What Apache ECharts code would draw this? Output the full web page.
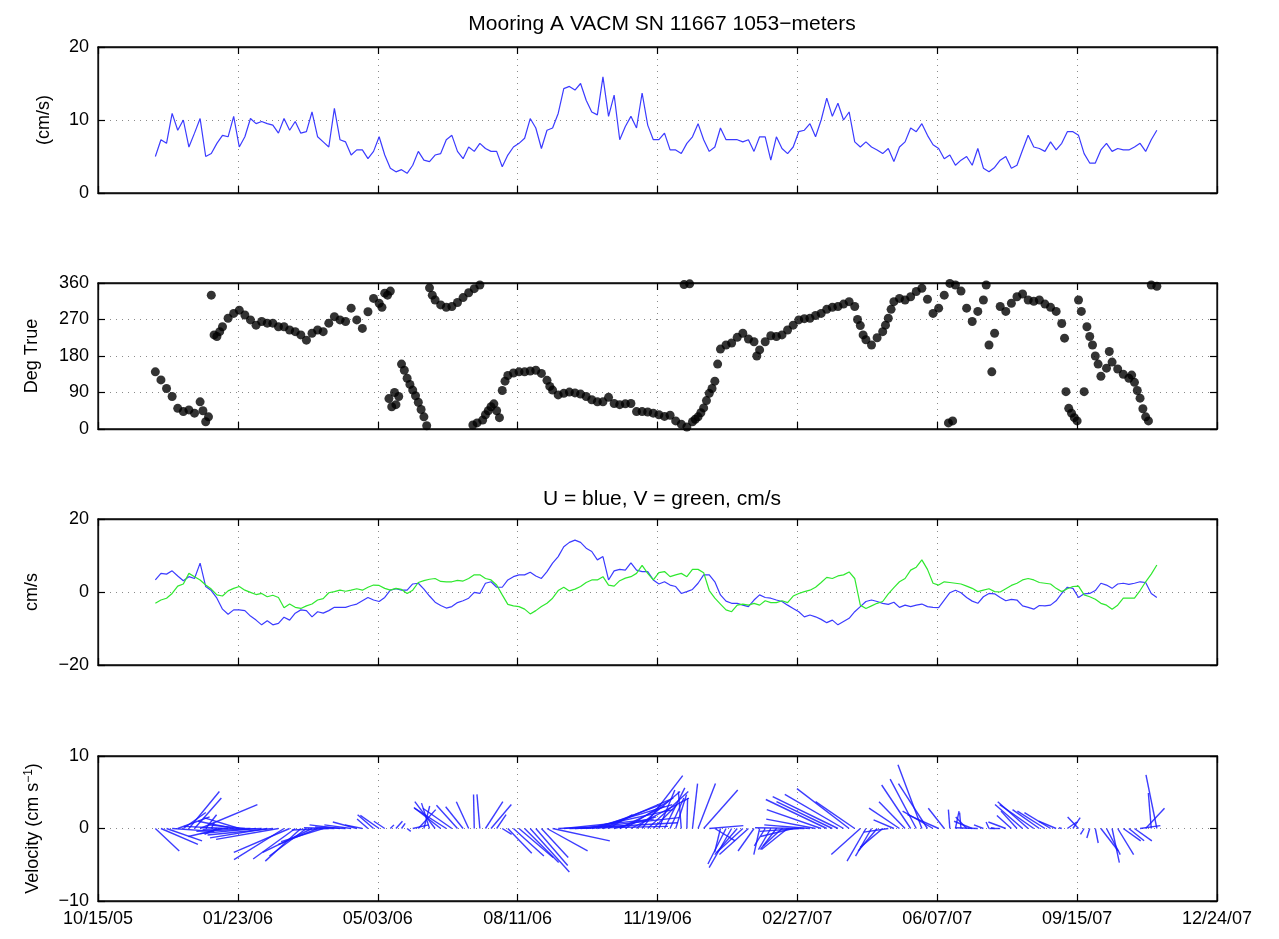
<!DOCTYPE html>
<html>
<head>
<meta charset="utf-8">
<script src="https://cdn.jsdelivr.net/npm/echarts@6/dist/echarts.min.js"></script>
<style>
html,body{margin:0;padding:0;background:#fff;}
#chart{width:1279px;height:939px;}
</style>
</head>
<body>
<div id="chart"></div>
<script>
// x axis: days since 10/15/05
const xTickLabels = ['10/15/05','01/23/06','05/03/06','08/11/06','11/19/06','02/27/07','06/07/07','09/15/07','12/24/07'];
const SAMPLE_START = 41;   // first sample day (11/25/05)
const SAMPLE_STEP = 4;     // days between samples

// Panel 1: speed (cm/s)
const speed = [
 5.0,7.3,6.8,10.9,8.6,10.0,6.3,8.2,10.2,5.0,
 5.4,6.8,7.9,7.7,10.5,6.3,7.7,10.2,9.5,9.8,
 9.5,9.3,8.2,10.2,8.6,9.8,8.2,8.4,11.1,7.7,
 7.0,6.3,11.6,7.3,7.0,5.2,5.9,5.9,4.7,5.7,
 7.7,5.2,3.4,2.9,3.2,2.7,3.8,5.7,4.5,4.3,
 5.2,5.4,7.3,7.9,5.7,4.7,6.3,5.7,6.8,6.1,
 5.7,5.7,3.6,5.2,6.3,6.8,7.5,10.2,8.9,6.1,
 8.6,8.9,10.9,14.3,14.6,14.1,15.0,12.7,11.1,10.7,
 15.9,10.5,13.4,7.3,9.1,10.5,8.9,13.7,9.3,7.3,
 7.3,8.2,5.9,5.9,5.4,6.8,7.7,9.5,7.3,5.7,
 6.3,8.9,7.3,7.3,7.3,7.0,7.3,5.7,7.7,7.7,
 4.5,7.7,6.1,5.4,6.3,8.4,8.6,9.5,7.7,10.0,
 13.0,10.5,12.3,10.0,11.1,7.0,6.3,7.0,6.3,5.9,
 5.4,6.1,4.3,6.3,7.0,8.9,8.4,9.5,7.9,6.6,
 6.1,4.7,5.2,3.8,4.5,5.0,3.8,6.1,3.4,2.9,
 3.5,4.5,5.0,3.4,3.8,5.9,7.9,6.3,6.1,5.7,
 7.0,5.9,6.8,8.4,8.4,7.9,5.4,4.1,4.1,5.9,
 6.8,5.7,6.1,5.9,5.9,6.3,6.8,5.7,7.3,8.6
];

// Panel 3 / 4: U (east) and V (north), cm/s
const uVel = [
 3.3,5.1,4.9,5.8,4.4,3.1,4.2,3.7,7.9,1.5,
 0.4,-1.7,-4.7,-6.1,-4.9,-4.9,-5.1,-6.6,-7.7,-9.0,
 -7.9,-9.0,-8.6,-6.9,-7.7,-5.8,-4.9,-5.1,-6.8,-5.4,
 -5.8,-5.1,-4.2,-4.2,-4.2,-3.7,-3.3,-2.4,-1.5,-2.2,
 -2.6,-1.5,0.5,0.9,0.5,0.5,2.2,2.4,0.8,-1.1,
 -2.8,-3.7,-4.4,-4.0,-2.9,-2.4,-1.7,-0.1,-0.4,2.4,
 2.8,1.3,1.3,3.3,4.2,4.7,4.7,5.4,4.4,3.7,
 5.6,7.9,9.7,12.4,13.6,14.2,13.6,12.0,11.1,8.8,
 9.7,3.3,5.8,6.2,6.0,8.0,6.0,5.6,5.6,3.3,
 2.2,2.8,1.9,1.5,-0.4,0.1,0.7,2.4,4.7,4.7,
 2.8,-0.8,-2.5,-3.1,-3.1,-3.6,-4.0,-2.2,-0.8,-1.5,
 -1.7,-2.2,-2.6,-3.6,-4.5,-5.4,-6.8,-6.3,-6.8,-7.5,
 -8.4,-7.7,-9.0,-8.1,-7.2,-5.4,-4.0,-2.6,-2.2,-2.6,
 -3.1,-3.4,-2.8,-4.2,-3.6,-4.0,-3.6,-3.3,-4.0,-4.2,
 -4.3,-2.2,-0.2,0.5,-0.2,-1.5,-2.5,-3.1,-1.3,-0.4,
 -0.5,-1.5,-2.4,-2.0,-2.2,-3.8,-4.2,-4.7,-3.7,-3.8,
 -3.6,-2.4,-0.4,1.3,1.0,-1.5,-0.5,-0.4,0.4,2.4,
 1.9,1.0,2.2,2.4,2.1,2.4,2.8,2.6,-0.4,-1.5
];
const vVel = [
 -3.1,-2.2,-1.7,-0.4,1.6,2.2,5.1,4.2,3.3,1.9,
 0.8,-0.8,-1.1,0.3,1.0,1.5,0.5,-0.1,-0.7,-0.4,
 -1.3,-0.9,-1.5,-4.3,-3.3,-4.2,-4.5,-3.8,-3.3,-2.2,
 -1.8,-0.2,0.1,0.5,0.2,0.5,0.9,0.5,1.3,1.9,
 1.8,1.0,0.5,1.0,0.7,-0.4,0.5,2.6,3.1,3.5,
 3.7,2.9,2.8,2.8,3.2,3.0,3.7,4.7,4.7,3.7,
 3.3,1.9,-0.8,-3.4,-3.8,-4.0,-4.7,-6.0,-5.1,-4.0,
 -3.1,-1.7,0.4,1.3,0.3,0.8,1.5,2.6,3.3,3.3,
 4.2,1.9,1.6,3.1,3.8,4.2,5.1,7.3,5.1,3.3,
 5.3,5.6,4.2,4.7,5.1,4.2,6.2,6.2,5.3,0.4,
 -1.7,-3.3,-4.9,-5.4,-3.6,-3.3,-3.6,-3.1,-3.6,-2.4,
 -2.9,-2.9,-2.4,-2.9,-1.1,-0.4,0.1,0.5,1.3,2.6,
 4.0,3.7,4.4,4.7,5.5,3.7,-3.6,-4.5,-3.8,-3.1,
 -2.6,-0.5,1.2,2.8,3.7,6.0,6.8,8.8,6.2,2.4,
 1.9,2.8,2.6,2.4,2.2,1.6,1.0,0.1,0.5,0.9,
 0.1,0.0,0.9,1.8,2.4,3.3,3.7,3.3,2.6,2.4,
 2.2,1.0,0.1,0.9,1.5,1.6,-0.8,-1.3,-2.0,-3.1,
 -3.6,-4.7,-3.6,-1.7,-1.7,-1.7,0.4,2.8,4.9,7.4
];

// Panel 2: direction (deg true), irregular sample days
const dirDays = [
 41,45,49,53,57,61,65,69,73,75,77,79,81,83,85,87,89,93,97,101,
 105,109,113,117,121,125,129,133,137,141,145,149,153,157,161,165,169,173,177,181,
 185,189,193,197,201,203,205,207,208,209,210,212,213,215,217,219,221,223,225,227,
 229,231,233,235,237,239,241,245,249,253,257,261,265,268,269,271,273,275,277,279,
 281,283,285,287,289,291,293,297,301,305,309,313,317,321,323,325,329,333,337,341,
 345,349,353,357,361,365,369,373,377,381,385,389,393,397,401,405,409,413,417,419,
 421,423,425,427,429,431,433,435,437,439,441,443,445,449,453,457,461,465,469,471,
 473,477,481,485,489,493,497,501,505,509,513,517,521,525,529,533,537,541,543,545,
 547,549,553,557,561,563,565,567,569,573,577,581,585,589,593,597,601,605,608,609,
 611,613,617,621,625,629,633,635,637,639,641,645,649,653,657,661,665,669,673,677,
 681,685,689,691,692,694,696,698,700,701,703,705,707,709,711,713,715,717,721,723,
 725,729,733,737,739,741,743,745,747,749,751,753,757
];
const dirDeg = [
 141,121,100,80,51,43,47,39,67,45,18,30,330,232,228,240,252,273,285,293,
 281,269,256,265,261,261,252,252,244,240,232,219,236,244,240,261,277,269,265,298,
 269,248,289,322,310,300,335,330,75,340,55,90,60,80,160,145,125,110,96,82,
 66,48,30,8,348,330,318,306,300,302,312,324,336,10,346,15,355,22,35,45,
 55,62,45,28,95,118,132,138,141,141,143,145,137,120,105,96,84,88,91,89,
 86,80,72,67,67,78,63,60,62,63,43,43,42,39,35,31,34,20,12,356,
 5,358,18,24,30,40,52,70,88,100,118,160,197,207,212,226,236,222,215,180,
 195,215,230,228,232,244,256,269,272,273,280,285,295,300,302,308,314,302,270,255,
 232,220,207,225,240,256,273,295,314,322,318,326,339,347,320,285,298,330,15,359,
 20,355,340,298,265,290,318,355,207,141,236,302,290,310,326,333,318,315,318,308,
 300,290,260,224,92,51,39,28,20,318,290,92,252,228,207,180,160,130,150,191,
 165,148,135,125,133,115,95,76,50,30,20,355,352
];

const sampleDays = speed.map((_, i) => SAMPLE_START + i * SAMPLE_STEP);

const FONT = 'Liberation Sans, Arial, Helvetica, sans-serif';
const FS = 18;
const TFS = 21;
const fmtNum = v => String(v).replace('-', '\u2212');

const panels = [
  {top: 47, height: 146, min: 0, max: 20, interval: 10, name: '(cm/s)', gap: 45},
  {top: 283, height: 146, min: 0, max: 360, interval: 90, name: 'Deg True', gap: 57},
  {top: 519, height: 146, min: -20, max: 20, interval: 20, name: 'cm/s', gap: 57},
  {top: 756, height: 145, min: -10, max: 10, interval: 10, name: 'Velocity (cm s{sup|\u22121})', gap: 55}
];

const grids = [], xAxes = [], yAxes = [];
panels.forEach((p, i) => {
  grids.push({left: 98, right: 62, top: p.top, height: p.height, show: true,
    borderColor: '#111', borderWidth: 1.3, backgroundColor: 'transparent'});
  const tick = {show: true, inside: true, length: 7, lineStyle: {color: '#000', width: 1.2}};
  const line = {show: true, onZero: false, lineStyle: {color: '#111', width: 1.3}};
  xAxes.push({gridIndex: i, type: 'value', position: 'bottom', min: 0, max: 800, interval: 100,
    axisLine: line, axisTick: tick,
    axisLabel: {show: i === 3, color: '#000', fontFamily: FONT, fontSize: FS, margin: 9,
      formatter: v => xTickLabels[Math.round(v / 100)]},
    splitLine: {show: true, lineStyle: {color: '#8a8a8a', type: [1, 5], width: 1}}});
  xAxes.push({gridIndex: i, type: 'value', position: 'top', min: 0, max: 800, interval: 100,
    axisLine: line, axisTick: tick,
    axisLabel: {show: false}, splitLine: {show: false}});
  yAxes.push({gridIndex: i, type: 'value', position: 'left', min: p.min, max: p.max, interval: p.interval,
    name: p.name, nameLocation: 'middle', nameRotate: 90, nameGap: p.gap,
    nameTextStyle: {color: '#000', fontFamily: FONT, fontSize: FS,
      rich: {sup: {fontSize: 12, fontFamily: FONT, color: '#000', verticalAlign: 'top', padding: [0, 0, 8, 0]}}},
    axisLine: line, axisTick: tick,
    axisLabel: {color: '#000', fontFamily: FONT, fontSize: FS, margin: 9, formatter: fmtNum},
    splitLine: {show: true, lineStyle: {color: '#8a8a8a', type: [1, 5], width: 1}}});
  yAxes.push({gridIndex: i, type: 'value', position: 'right', min: p.min, max: p.max, interval: p.interval,
    axisLine: line, axisTick: tick,
    axisLabel: {show: false}, splitLine: {show: false}});
});

const speedData = sampleDays.map((d, i) => [d, speed[i]]);
const uData = sampleDays.map((d, i) => [d, uVel[i]]);
const vData = sampleDays.map((d, i) => [d, vVel[i]]);
const stickData = sampleDays.map((d, i) => [d, uVel[i], vVel[i]]);
const dirData = dirDays.map((d, i) => [d, dirDeg[i]]);

const option = {
  animation: false,
  backgroundColor: '#fff',
  title: [
    {text: 'Mooring A VACM SN 11667 1053\u2212meters', left: 657, top: 9, textAlign: 'center',
      textStyle: {fontFamily: FONT, fontSize: TFS, fontWeight: 'normal', color: '#000'}},
    {text: 'U = blue, V = green, cm/s', left: 657, top: 484, textAlign: 'center',
      textStyle: {fontFamily: FONT, fontSize: TFS, fontWeight: 'normal', color: '#000'}}
  ],
  grid: grids, xAxis: xAxes, yAxis: yAxes,
  series: [
    {type: 'line', xAxisIndex: 0, yAxisIndex: 0, data: speedData, showSymbol: false,
      lineStyle: {color: '#3b3bff', width: 1.2}},
    {type: 'scatter', xAxisIndex: 2, yAxisIndex: 2, data: dirData, symbolSize: 9, clip: false,
      itemStyle: {color: '#000'}},
    {type: 'line', xAxisIndex: 4, yAxisIndex: 4, data: uData, showSymbol: false,
      lineStyle: {color: '#3b3bff', width: 1.2}},
    {type: 'line', xAxisIndex: 4, yAxisIndex: 4, data: vData, showSymbol: false,
      lineStyle: {color: '#2fe82f', width: 1.2}},
    {type: 'custom', xAxisIndex: 6, yAxisIndex: 6, data: stickData, clip: false,
      encode: {x: 0, y: 2},
      renderItem: function (params, api) {
        const t = api.value(0), u = api.value(1), v = api.value(2);
        const base = api.coord([t, 0]);
        const unit = base[1] - api.coord([t, 1])[1];
        const tipY = api.coord([t, v])[1];
        return {type: 'line', shape: {x1: base[0], y1: base[1], x2: base[0] + u * unit, y2: tipY},
          style: {stroke: '#1a1aff', lineWidth: 1.4, opacity: 0.85}};
      }}
  ]
};

const chart = echarts.init(document.getElementById('chart'), null, {renderer: 'canvas'});
chart.setOption(option);
</script>
</body>
</html>
